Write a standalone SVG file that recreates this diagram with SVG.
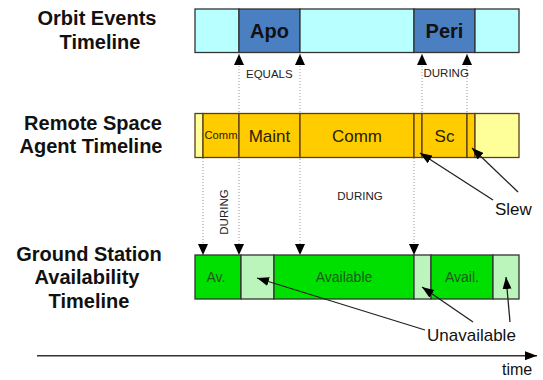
<svg xmlns="http://www.w3.org/2000/svg" width="543" height="380" viewBox="0 0 543 380">
  <style>
    .title { font-family: "Liberation Sans", Arial, sans-serif; font-weight: bold; font-size: 20px; fill: #111; text-anchor: middle; }
    .orb-a { fill: #B8FFFF; stroke: #333; stroke-width: 1.3; }
    .orb-b { fill: #4A7FC1; stroke: #333; stroke-width: 1.3; }
    .orb-t { font-family: "Liberation Sans", Arial, sans-serif; font-weight: bold; font-size: 20px; fill: #111; text-anchor: middle; }
    .rsa-a { fill: #FFFF99; stroke: #5a3d1a; stroke-width: 1.3; }
    .rsa-b { fill: #FFCC00; stroke: #5a3d1a; stroke-width: 1.3; }
    .rsa-t { font-family: "Liberation Sans", Arial, sans-serif; font-size: 17px; fill: #2a2000; text-anchor: middle; }
    .gs-a { fill: #BBF5BB; stroke: #333; stroke-width: 1.3; }
    .gs-b { fill: #00E000; stroke: #333; stroke-width: 1.3; }
    .gs-t { font-family: "Liberation Sans", Arial, sans-serif; font-size: 14px; fill: #1f5a1f; text-anchor: middle; }
    .rel { font-family: "Liberation Sans", Arial, sans-serif; font-size: 11.5px; fill: #222; }
    .note { font-family: "Liberation Sans", Arial, sans-serif; font-size: 17px; fill: #111; }
    .dot { stroke: #999; stroke-width: 1; stroke-dasharray: 1 2; fill: none; }
    .call { stroke: #222; stroke-width: 1.3; fill: none; marker-end: url(#head); }
  </style>
  <defs>
    <marker id="tri" viewBox="0 0 11 10" refX="11" refY="5" markerWidth="11" markerHeight="10" markerUnits="userSpaceOnUse" orient="auto-start-reverse">
      <path d="M0,0 L11,5 L0,10 z" fill="#000"/>
    </marker>
    <marker id="head" viewBox="0 0 12 9" refX="12" refY="4.5" markerWidth="12" markerHeight="9" markerUnits="userSpaceOnUse" orient="auto">
      <path d="M0,0 L12,4.5 L0,9 z" fill="#000"/>
    </marker>
  </defs>

  <!-- dotted relation lines, drawn below the bars -->
  <g id="connectors">
    <line class="dot" x1="203" y1="158" x2="203" y2="255" marker-end="url(#tri)"/>
    <line class="dot" x1="239" y1="54" x2="239" y2="255" marker-start="url(#tri)" marker-end="url(#tri)"/>
    <line class="dot" x1="300" y1="54" x2="300" y2="255" marker-start="url(#tri)" marker-end="url(#tri)"/>
    <line class="dot" x1="414" y1="158" x2="414" y2="255" marker-end="url(#tri)"/>
    <line class="dot" x1="422" y1="54" x2="422" y2="113" marker-start="url(#tri)"/>
    <line class="dot" x1="467" y1="54" x2="467" y2="113" marker-start="url(#tri)"/>
  </g>

  <!-- row titles -->
  <g id="orbit-title">
    <text class="title" x="97" y="25">Orbit Events</text>
    <text class="title" x="100" y="49">Timeline</text>
  </g>
  <g id="agent-title">
    <text class="title" x="93" y="130">Remote Space</text>
    <text class="title" x="91" y="153">Agent Timeline</text>
  </g>
  <g id="ground-title">
    <text class="title" x="89" y="261">Ground Station</text>
    <text class="title" x="87" y="284">Availability</text>
    <text class="title" x="89" y="308">Timeline</text>
  </g>

  <!-- orbit events bar -->
  <g id="orbit-bar">
    <rect class="orb-a" x="195" y="9" width="44" height="43.5"/>
    <rect class="orb-b" x="239" y="9" width="61" height="43.5"/>
    <rect class="orb-a" x="300" y="9" width="114" height="43.5"/>
    <rect class="orb-b" x="414" y="9" width="61" height="43.5"/>
    <rect class="orb-a" x="475" y="9" width="44" height="43.5"/>
    <text class="orb-t" x="269.5" y="38">Apo</text>
    <text class="orb-t" x="444.5" y="38">Peri</text>
  </g>

  <!-- remote space agent bar -->
  <g id="agent-bar">
    <rect class="rsa-a" x="195" y="113.5" width="8" height="44"/>
    <rect class="rsa-b" x="203" y="113.5" width="36" height="44"/>
    <rect class="rsa-b" x="239" y="113.5" width="61" height="44"/>
    <rect class="rsa-b" x="300" y="113.5" width="114" height="44"/>
    <rect class="rsa-b" x="414" y="113.5" width="8" height="44"/>
    <rect class="rsa-b" x="422" y="113.5" width="45" height="44"/>
    <rect class="rsa-b" x="467" y="113.5" width="8" height="44"/>
    <rect class="rsa-a" x="475" y="113.5" width="44" height="44"/>
    <text class="rsa-t" x="221" y="139" style="font-size:11px" textLength="33" lengthAdjust="spacingAndGlyphs">Comm</text>
    <text class="rsa-t" x="269.5" y="141.5">Maint</text>
    <text class="rsa-t" x="357" y="141.5">Comm</text>
    <text class="rsa-t" x="444.5" y="141.5">Sc</text>
  </g>

  <!-- ground station availability bar -->
  <g id="ground-bar">
    <rect class="gs-b" x="195" y="255" width="46" height="44"/>
    <rect class="gs-a" x="241" y="255" width="33" height="44"/>
    <rect class="gs-b" x="274" y="255" width="140" height="44"/>
    <rect class="gs-a" x="414" y="255" width="17" height="44"/>
    <rect class="gs-b" x="431" y="255" width="62" height="44"/>
    <rect class="gs-a" x="493" y="255" width="26" height="44"/>
    <text class="gs-t" x="216" y="282">Av.</text>
    <text class="gs-t" x="344" y="282">Available</text>
    <text class="gs-t" x="462" y="282">Avail.</text>
  </g>

  <!-- relation labels -->
  <g id="relations">
    <text class="rel" x="246" y="78">EQUALS</text>
    <text class="rel" x="423.5" y="77">DURING</text>
    <text class="rel" x="360" y="200" text-anchor="middle">DURING</text>
    <text class="rel" transform="translate(227.5,212) rotate(-90)" text-anchor="middle">DURING</text>
  </g>

  <!-- callouts -->
  <g id="slew-callout">
    <line class="call" x1="493" y1="200" x2="420" y2="153"/>
    <line class="call" x1="518" y1="192" x2="472" y2="148"/>
    <text class="note" x="495" y="215">Slew</text>
  </g>
  <g id="unavailable-callout">
    <line class="call" x1="425" y1="330" x2="257" y2="278"/>
    <line class="call" x1="473" y1="322" x2="422" y2="287"/>
    <line class="call" x1="510" y1="322" x2="506" y2="277"/>
    <text class="note" x="427" y="341">Unavailable</text>
  </g>

  <!-- time axis -->
  <g id="time-axis">
    <line x1="37" y1="355.7" x2="537" y2="355.7" stroke="#333" stroke-width="1.5" marker-end="url(#head)"/>
    <text class="note" x="502" y="375" style="font-size:16px">time</text>
  </g>
</svg>
